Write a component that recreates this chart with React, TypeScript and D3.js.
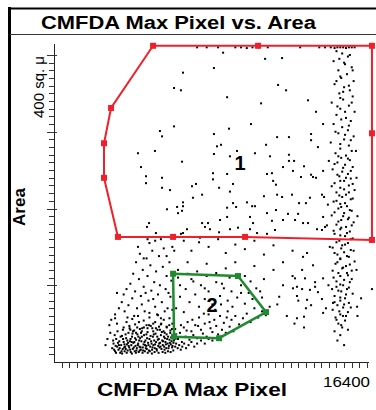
import * as d3 from 'd3'

// CMFDA max pixel (channel units) vs. area (sq. µ)
const lowCluster: [number, number][] = [
  [3050,18],[3120,24],[3200,14],[3260,30],[3310,20],[3380,16],[3420,27],[3470,12],[3520,22],[3560,34],[3600,17],[3650,26],[3700,14],[3730,20],[3780,31],[3820,23],[3860,15],[3900,38],[3940,19],[3980,27],[4020,13],[4050,22],[4090,33],[4130,17],[4160,25],[4200,41],[4230,14],[4270,21],[4300,29],[4340,18],[4370,36],[4410,24],[4440,13],[4480,20],[4510,31],[4550,16],[4580,27],[4620,44],[4650,19],[4690,23],[4720,35],[4760,14],[4790,28],[4830,21],[4860,17],[4900,39],[4930,25],[4970,15],[5000,30],[5040,20],[5070,47],[5110,24],[5140,16],[5180,33],[5210,22],[5250,28],[5280,18],[5320,37],[5350,26],[5390,15],[5420,42],[5460,21],[5490,30],[5530,19],[5560,25],[5600,35],[5630,17],[5670,28],[5700,22],[5740,40],[5770,20],[5810,31],[5840,26],[5880,18],[5910,45],[5950,24],[5980,33],[6020,21],[6050,29],[6090,38],[6120,23],[6160,27],[6190,19],[6230,34],[6260,25],
  [3150,16],[3230,21],[3350,25],[3440,18],[3540,14],[3620,30],[3690,23],[3760,17],[3840,28],[3910,21],[3990,16],[4070,26],[4110,37],[4180,19],[4250,31],[4320,15],[4390,22],[4460,28],[4530,19],[4600,33],[4670,15],[4740,26],[4810,18],[4880,31],[4950,22],[5020,14],[5090,27],[5160,19],[5230,36],[5300,23],[5370,17],[5440,29],[5510,24],[5580,20],[5650,39],[5720,27],[5790,16],[5860,23],[5930,30],[6000,18],[6070,25],[6140,32],[6210,21],[6280,28],[6350,20],
  [3650,45],[3800,52],[3950,47],[4100,56],[4250,49],[4400,60],[4500,43],[4700,54],[4850,48],[5000,58],[5150,44],[5300,52],[5450,61],[5600,49],[5750,55],[5900,46],[6050,57],[6200,50],[6350,43],[4000,42],[4300,38],[4600,40],[4900,44],[5200,40],[5500,46],[5800,38],[6100,41],[6400,36],
  [3100,28],[3180,35],[3250,12],[3330,40],[3400,22],[3490,33],[3570,11],[3610,42],[3680,19],[3750,36],[3810,12],[3880,25],[3960,44],[4010,30],[4080,11],[4140,40],[4210,26],[4290,12],[4360,45],[4420,33],[4490,15],[4560,38],[4640,12],[4710,45],[4770,22],[4840,36],[4910,12],[4980,48],[5060,34],[5130,11],[5200,50],[5270,13],[5340,44],[5410,33],[5480,12],[5550,42],[5620,50],[5690,13],[5760,33],[5830,12],[5900,36],[5970,14],[6040,48],[6110,13],[6180,43],[6250,15],[6330,30],[6400,24],[6480,18],[6560,22],[6640,16],[6720,20],[6820,24],[6920,18],[7050,22],[7200,26],[7350,20],[7500,24],[7700,28],[7900,24],[8100,30],[8300,28],
  [2900,48],[3300,90],[3200,57],[2800,30],[2700,22],[2950,38]
]

const gate2Region: [number, number][] = [
  [6500,30],[6600,38],[6700,26],[6800,45],[6900,33],[7000,52],[7100,29],[7200,40],[7300,35],[7400,48],[7500,31],[7600,58],[7700,42],[7800,37],[7900,50],[8000,33],[8100,62],[8200,44],[8300,39],[8400,55],[8500,47],[8600,36],[8700,60],[8800,42],[8900,51],[9000,38],[9100,66],[9200,46],[9300,55],[9400,40],[9500,60],[9700,49],[9900,57],[10100,63],[10300,52],[10500,70],[10700,58],[10900,66],[11100,61],[11300,72],[6650,48],[6950,41],[7250,55],[7550,47],[7850,63],[8150,52],[8450,68],[8750,75],[9050,58],[9350,72],
  [6400,70],[6600,85],[6800,65],[6900,95],[7100,78],[7200,108],[7400,88],[7600,72],[7700,100],[7900,82],[8100,92],[8300,75],[8500,104],[8700,86],[8900,96],[9100,80],[9300,92],[9600,84],[9800,100],[10000,76],[10200,90],[10400,82],[10600,96],[10900,84],[6500,110],[7000,115],[8000,112],[9200,110],[10300,105]
]

const spread: [number, number][] = [
  [3000,55],[3200,62],[3400,70],[3300,50],[3550,78],[3700,66],[3650,88],[3800,95],[3900,74],[4000,102],[4100,83],[4150,115],[4250,92],[4300,130],[4350,70],[4450,108],[4500,141],[4550,86],[4650,120],[4700,98],[4750,66],[4850,135],[4900,112],[4950,80],[5050,126],[5100,93],[5150,145],[5250,104],[5300,72],[5350,118],[5450,88],[5500,138],[5550,100],[5650,78],[5700,124],[5750,148],[5850,95],[5900,112],[5950,70],[6050,130],[6100,85],[6150,106],[4200,60],[4600,75],[5000,64],[5400,62],[5800,66],[6200,68],[3850,58],[4450,52],[5600,57],[6000,90],[4800,90],[5200,82],
  [4400,150],[4700,135],[5300,158],[5900,138],[6300,145],[4900,160]
]

const betweenGates: [number, number][] = [
  [5000,155],[5600,160],[6200,150],[6800,158],[7200,145],[7600,156],[8100,150],[8600,160],[9000,142],[9500,153],[10000,147],[10500,158],[11000,140],[11500,152],[12000,130],[12500,145],[13000,120],[6500,120],[7000,130],[7500,118],[8000,128],[8500,116],[9000,122],[9500,130],[10000,112],[10500,125],[11000,108],[11500,120],[12000,100],[12500,112],[13000,95],[6600,100],[7300,105],[7900,96],[8800,102],[9800,90],[10800,92],[11800,85],[12800,80],[13200,70],[12200,60],[11700,75],[12600,50],[13100,45],
  [13260,142],[13050,137],[13570,126],[12630,109],[13150,109],[13680,104],[14100,109],[12520,96],[12730,98],[13410,94],[13680,98],[13830,91],[12730,86],[13260,81],[14040,82],[14570,95],[13470,74],[14250,70],[12730,57],[13100,59],[14100,64],[14620,77],[15140,60],[15880,72],[16090,83],[16660,95]
]

const rightBand: [number, number][] = [
  [14800,405],[15100,402],[15400,398],[14650,392],[15250,388],[15600,384],[14900,380],[15350,375],[15050,370],[15700,366],[14700,362],[15200,358],[15500,354],[14950,350],[15650,346],[15150,342],[14550,338],[15450,334],[15000,330],[15750,326],[14800,322],[15300,318],[15550,314],[14650,310],[15100,306],[15400,302],[14900,298],[15700,294],[15200,290],[14500,286],[15450,282],[15000,278],[15600,275],[14750,272],[15300,269],[15050,266],[15500,263],[14850,260],[15250,257],[15650,254],[14600,251],[15100,248],[15400,245],[14950,242],[15550,239],[15200,236],[14700,233],[15450,230],[15000,227],[15750,224],[14800,221],[15300,218],[15100,215],[15550,212],[14650,209],[15000,206],[15350,203],[14900,200],[15600,197],[15200,194],[14550,191],[15450,188],[15050,185],[15700,182],[14800,179],[15300,176],[15000,173],[15500,170],[14700,167],[15250,164],[15650,161],[14950,158],[15400,155],[15100,152],[14600,149],[15550,146],[15200,143],[14850,140],[15450,137],[15000,134],[15750,131],[14750,128],[15300,125],[15100,122],[15600,119],[14900,116],[15400,113],[14650,110],[15200,107],[15500,104],[15000,101],[14800,98],[15350,95],[15050,92],[15650,89],[14700,86],[15250,83],[15000,80],[15450,77],[14850,74],[15150,71],[14600,68],[15400,65],[15000,62],[14750,58],[15250,54],[14900,50],[15100,45],[14700,40],[15000,35],[14850,28],[15200,22],
  [14900,268],[15400,265],[14700,258],[15150,253],[15550,249],[14850,244],[15300,240],[15000,236],[15650,232],[14550,229],[15200,225],[15450,221],[14950,217],[15650,213],[14800,210],[15250,207],[15050,202],[15500,198],[14700,195],[15150,190],[15400,186],[14900,183],[15600,178],[15050,175],[14650,171],[15350,168],[15000,165],[15550,160],[14800,156],[15250,153],[15050,148],[15700,145],[14700,142],[15350,138],[15000,135],[14850,130],[15500,127],[15150,123],[14600,119],[15350,116],[15000,112],[15600,108],[14800,105],[15150,100],[15450,97],[14900,93],[15300,88],[15000,84],[14700,78],[15200,75],[15550,71],[14950,66],[15300,60],[14800,55],[15050,48],[15400,42],
  [15500,400],[14950,395],[15200,390],[15650,380],[15000,372],[14800,366],[15450,360],[15150,352],[15000,344],[15600,338],[14850,333],[15250,326],[15050,316],[15450,308],[14750,300],[15250,296],[15550,289],[15000,284],
  [14400,262],[15850,240],[14350,205],[15900,190],[14450,150],[15850,120],[14380,100],[15900,60],[14300,178],[15820,275]
]

const topRow: [number, number][] = [
  [7500,410],[8000,410],[8600,410],[9500,410],[9800,410],[10100,409],[10400,410],[10700,410],[11200,410],[12900,410],[13900,410],[14200,410],[14500,410],[14700,409],[14850,410],[15000,410],[15150,410],[15300,409],[15450,410],[15600,410],[15750,410]
]

const gate1Region: [number, number][] = [
  [8860,403],[11060,395],[11950,396],[8380,383],[6760,377],[6290,357],[6650,354],[11740,361],[12160,354],[9070,345],[10850,337],[5550,301],[5660,294],[6290,307],[8380,297],[9170,304],[10320,310],[11690,293],[8540,281],[8750,283],[4400,272],[5290,275],[9590,275],[10530,272],[11110,283],[8380,271],[9220,268],[11320,268],[12310,262],[4560,254],[6710,261],[12000,254],[4820,242],[4820,233],[5660,240],[5660,227],[6080,224],[8330,246],[8330,238],[9070,245],[11160,245],[11420,246],[11480,236],[11630,231],[7230,229],[7440,232],[8650,227],[9380,232],[9220,222],[7760,218],[7280,214],[11000,216],[11690,218],[11950,215],[6760,208],[6760,203],[6450,202],[6710,197],[6500,194],[5920,199],[9380,207],[9540,202],[10110,208],[10380,203],[10530,203],[9070,201],[11160,194],[11630,198],[9070,189],[10270,189],[8700,185],[11420,184],[12000,185],[7760,181],[8070,181],[7910,176],[8170,173],[4980,181],[4870,176],[9220,173],[9640,175],[10270,173],[10430,181],[6970,173],[6760,168],[6650,167],[10640,168],[11160,167],[11580,172],[7650,162],[5340,168],[8650,169],
  [13310,341],[13730,326],[14100,310],[12310,293],[13470,297],[13470,289],[13830,280],[12310,270],[12580,262],[13100,255],[12520,249],[12940,241],[13470,244],[13570,241],[13730,240],[14100,249],[12470,218],[12840,207],[13200,207],[13410,214],[14040,218],[14150,215],[12260,193],[12790,193],[14100,189],[12630,185],[13050,181],[13310,181],[13780,173],[14040,172],[14200,176]
]

// gate outlines
const gate1: [number, number][] = [[5190,412],[2990,331],[2620,285],[2620,240],[3350,163],[6240,163],[10010,163],[16660,159],[16660,298],[16660,412],[10690,412]]
const gate2: [number, number][] = [[6240,115],[9640,112],[11110,65],[8650,31],[6290,33]]

const xTicks = d3.range(400, 16401, 400)
const yTicks = d3.range(10, 401, 10)

const RED = '#f0202a'
const GREEN = '#1f8a30'
const FONT = '"Liberation Sans", Arial, sans-serif'

export default function App() {
  const x = d3.scaleLinear().domain([0, 16400]).range([54, 367])
  const y = d3.scaleLinear().domain([0, 400]).range([362, 55])
  const line = d3.line<[number, number]>().x(d => x(d[0])).y(d => y(d[1])).curve(d3.curveLinearClosed)

  const allPts = [...lowCluster, ...gate2Region, ...spread, ...betweenGates, ...rightBand, ...topRow, ...gate1Region]

  return (
    <svg width={376} height={410} style={{ position: 'absolute', left: 0, top: 0, background: '#fff' }}>
      {/* frame */}
      <line x1={9.5} x2={9.5} y1={7} y2={410} stroke="#000" strokeWidth={3} />
      <line x1={9} x2={376} y1={8.5} y2={8.5} stroke="#000" strokeWidth={2} />
      <line x1={10} x2={376} y1={34.5} y2={34.5} stroke="#333" strokeWidth={1} />
      <text x={41} y={29} fontFamily={FONT} fontWeight="bold" fontSize={18} textLength={275} lengthAdjust="spacingAndGlyphs">CMFDA Max Pixel vs. Area</text>

      {/* axes */}
      <line x1={54.5} x2={54.5} y1={44} y2={362.5} stroke="#222" strokeWidth={1} />
      <line x1={54} x2={369} y1={362.5} y2={362.5} stroke="#222" strokeWidth={1} />
      {yTicks.map(t => (
        <line key={'y' + t} x1={t % 100 === 0 ? 47 : 49} x2={t % 100 === 0 ? 57 : 55} y1={Math.round(y(t)) + 0.5} y2={Math.round(y(t)) + 0.5} stroke="#333" strokeWidth={1} />
      ))}
      {xTicks.map(t => (
        <line key={'x' + t} x1={Math.round(x(t)) + 0.5} x2={Math.round(x(t)) + 0.5} y1={362} y2={368} stroke="#333" strokeWidth={1} />
      ))}
      <text x={x(16400) + 3} y={387} textAnchor="end" fontFamily={FONT} fontSize={14} textLength={47} lengthAdjust="spacingAndGlyphs">16400</text>
      <text x={97} y={396} fontFamily={FONT} fontWeight="bold" fontSize={18} textLength={190} lengthAdjust="spacingAndGlyphs">CMFDA Max Pixel</text>
      <text transform="translate(25,207) rotate(-90)" textAnchor="middle" fontFamily={FONT} fontWeight="bold" fontSize={17}>Area</text>
      <text transform={`translate(44,${y(400) + 32}) rotate(-90)`} textAnchor="middle" fontFamily={FONT} fontSize={15}>400 sq. μ</text>

      {/* events */}
      <g fill="#000">
        {allPts.map((d, i) => (
          <rect key={i} x={x(d[0]) - 1} y={y(d[1]) - 1} width={2} height={2} />
        ))}
      </g>

      {/* gate 1 */}
      <path d={line(gate1) ?? ''} fill="none" stroke={RED} strokeWidth={2} />
      {gate1.map((d, i) => (
        <rect key={'g1' + i} x={x(d[0]) - 3} y={y(d[1]) - 3} width={6} height={6} fill={RED} />
      ))}
      <text x={x(9750)} y={y(259) + 7} textAnchor="middle" fontFamily={FONT} fontWeight="bold" fontSize={20}>1</text>

      {/* gate 2 */}
      <path d={line(gate2) ?? ''} fill="none" stroke={GREEN} strokeWidth={2.5} />
      {gate2.map((d, i) => (
        <rect key={'g2' + i} x={x(d[0]) - 3} y={y(d[1]) - 3} width={6} height={6} fill={GREEN} />
      ))}
      <text x={x(8280)} y={y(74) + 7} textAnchor="middle" fontFamily={FONT} fontWeight="bold" fontSize={20}>2</text>
    </svg>
  )
}
